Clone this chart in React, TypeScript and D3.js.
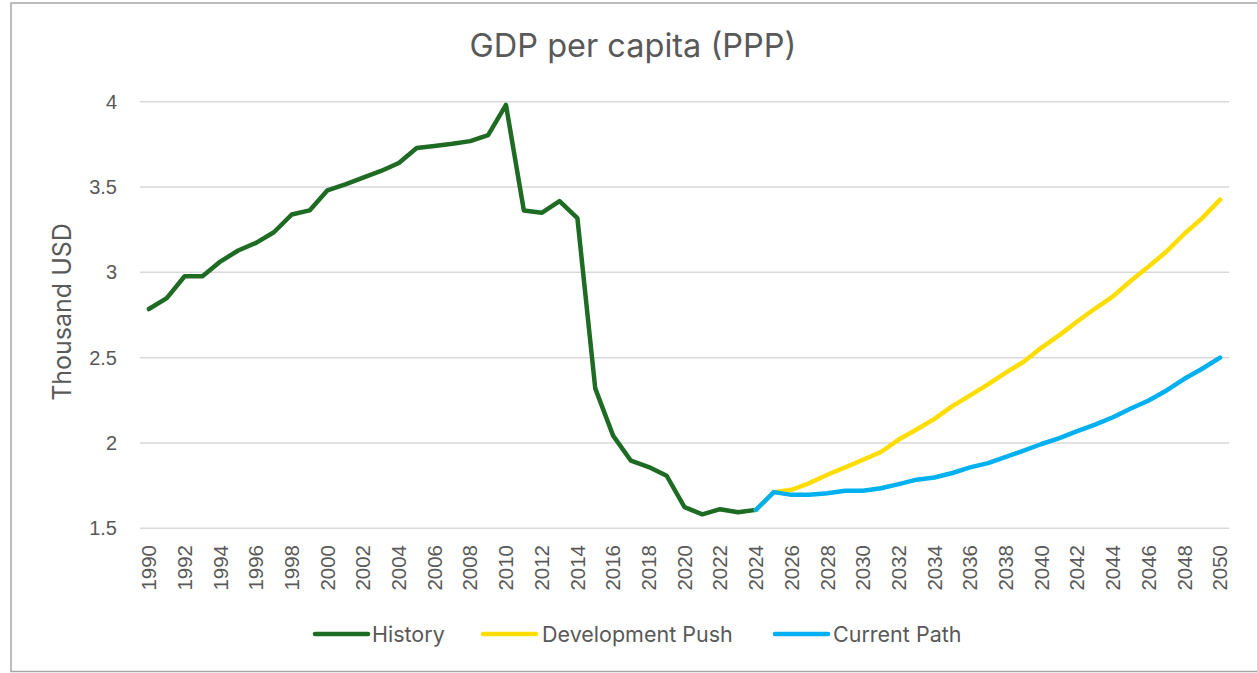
import React from "react";
import * as d3 from "d3";

const historyYears = d3.range(1990, 2025);
const historyValues = [
  2.785, 2.849, 2.977, 2.977, 3.063, 3.128, 3.173, 3.235, 3.339, 3.363,
  3.481, 3.516, 3.555, 3.594, 3.641, 3.729, 3.741, 3.753, 3.769, 3.804,
  3.981, 3.363, 3.349, 3.418, 3.318, 2.32, 2.043, 1.896, 1.859, 1.808,
  1.624, 1.582, 1.612, 1.594, 1.608,
];
const forecastYears = d3.range(2024, 2051);
const devPushValues = [
  1.608, 1.712, 1.726, 1.765, 1.814, 1.857, 1.902, 1.947, 2.02, 2.079,
  2.141, 2.216, 2.279, 2.343, 2.412, 2.476, 2.559, 2.632, 2.712, 2.788,
  2.859, 2.951, 3.034, 3.122, 3.226, 3.318, 3.426,
];
const currentPathValues = [
  1.608, 1.712, 1.696, 1.696, 1.706, 1.72, 1.72, 1.735, 1.759, 1.785,
  1.798, 1.824, 1.857, 1.882, 1.918, 1.955, 1.994, 2.029, 2.069, 2.108,
  2.151, 2.202, 2.249, 2.308, 2.376, 2.435, 2.5,
];
const allYears = d3.range(1990, 2051);
const yTicks = [1.5, 2, 2.5, 3, 3.5, 4];
const xTickYears = allYears.filter((y) => y % 2 === 0);

const seriesNames = ["History", "Development Push", "Current Path"];
const seriesColors = ["#1e6b23", "#ffdd00", "#00b0f0"];

export default function App() {
  const W = 1257;
  const H = 673;
  const left = 140;
  const right = 1229;
  const top = 101.7;
  const bottom = 528.3;

  const x = d3
    .scaleBand<number>()
    .domain(allYears)
    .range([left, right]);
  const cx = (yr: number) => (x(yr) as number) + x.bandwidth() / 2;
  const y = d3.scaleLinear().domain([1.5, 4]).range([bottom, top]);

  const line = d3
    .line<[number, number]>()
    .x((d) => cx(d[0]))
    .y((d) => y(d[1]));

  const hist = historyYears.map((yr, i) => [yr, historyValues[i]] as [number, number]);
  const dev = forecastYears.map((yr, i) => [yr, devPushValues[i]] as [number, number]);
  const cur = forecastYears.map((yr, i) => [yr, currentPathValues[i]] as [number, number]);
  const paths = [hist, dev, cur];

  const textColor = "#595959";
  const tickFont = "'Liberation Sans', Arial, sans-serif";
  const titleFont = "Inter, 'Noto Sans', sans-serif";

  const legendItems = [
    { lx: 315, tx: 372 },
    { lx: 483, tx: 542 },
    { lx: 775, tx: 833 },
  ];

  return (
    <svg
      width={W}
      height={H}
      style={{ position: "absolute", left: 0, top: 0, background: "#fff" }}
    >
      <rect x={11} y={3} width={1260} height={668.5} fill="#fff" stroke="#a6a6a6" strokeWidth={1.5} />
      <text
        x={633}
        y={57}
        textAnchor="middle"
        fontFamily={titleFont}
        fontSize={32.5}
        fill={textColor}
      >
        GDP per capita (PPP)
      </text>
      {yTicks.map((t) => (
        <g key={t}>
          <line x1={left} x2={right} y1={y(t)} y2={y(t)} stroke="#d9d9d9" strokeWidth={1.5} />
          <text
            x={117}
            y={y(t)}
            dy="0.35em"
            textAnchor="end"
            fontFamily={tickFont}
            fontSize={20}
            fill={textColor}
          >
            {t}
          </text>
        </g>
      ))}
      <text
        transform={`translate(71, 312) rotate(-90)`}
        textAnchor="middle"
        fontFamily={titleFont}
        fontSize={25}
        fill={textColor}
      >
        Thousand USD
      </text>
      {xTickYears.map((yr) => (
        <text
          key={yr}
          transform={`translate(${cx(yr)}, 545) rotate(-90)`}
          textAnchor="end"
          dy="0.35em"
          fontFamily={tickFont}
          fontSize={20.5}
          fill={textColor}
        >
          {yr}
        </text>
      ))}
      {paths.map((p, i) => (
        <path
          key={i}
          d={line(p) as string}
          fill="none"
          stroke={seriesColors[i]}
          strokeWidth={4.5}
          strokeLinejoin="round"
          strokeLinecap="round"
        />
      ))}
      {seriesNames.map((name, i) => (
        <g key={name}>
          <line
            x1={legendItems[i].lx}
            x2={legendItems[i].lx + 53}
            y1={634}
            y2={634}
            stroke={seriesColors[i]}
            strokeWidth={4.5}
            strokeLinecap="round"
          />
          <text
            x={legendItems[i].tx}
            y={634}
            dy="0.35em"
            fontFamily={titleFont}
            fontSize={21.5}
            fill={textColor}
          >
            {name}
          </text>
        </g>
      ))}
    </svg>
  );
}
